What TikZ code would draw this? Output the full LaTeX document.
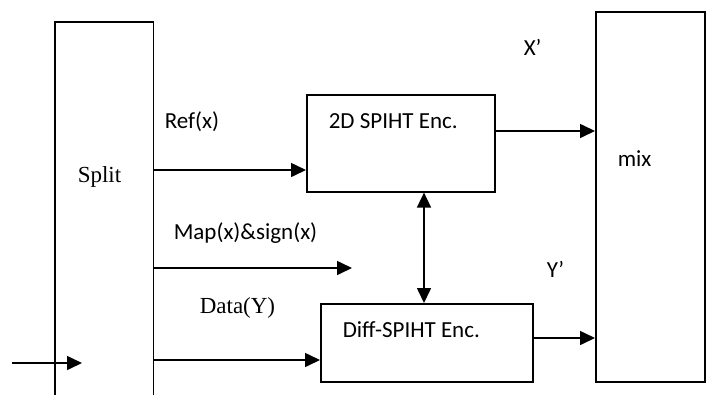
\documentclass[tikz,border=0pt]{standalone}
\usepackage{fontspec}
\setmainfont{Liberation Serif}
\newfontfamily\labelfont{Carlito}
\usetikzlibrary{arrows.meta}
\begin{document}
\begin{tikzpicture}[x=1pt,y=-1pt,
  line width=1.6pt,
  blk/.style={draw,rectangle,inner sep=0pt,anchor=north west},
  arr/.style={-{Triangle[length=15pt,width=14pt]}},
  darr/.style={{Triangle[length=15pt,width=14pt]}-{Triangle[length=15pt,width=14pt]}},
  sans/.style={font=\labelfont\fontsize{23}{27}\selectfont,inner sep=0pt,anchor=base west},
  serif/.style={font=\fontsize{23}{27}\selectfont,inner sep=0pt,anchor=base west}]
\useasboundingbox (0,0) rectangle (711,394);

% blocks
\node[inner sep=0pt,minimum width=97pt,minimum height=378pt,anchor=north west] (split) at (55,22) {};
\draw (split.south west) -- (split.north west) -- (split.north east) -- (split.south east);
\node[blk,minimum width=188pt,minimum height=97pt] (tdd) at (306,94) {};
\node[blk,minimum width=212pt,minimum height=78pt] (diff) at (320,303) {};
\node[blk,minimum width=109pt,minimum height=370pt] (mix) at (595,11) {};

% texts
\node[serif] (tsplit) at (77,182) {Split};
\node[sans] (tref) at (164,128) {Ref(x)};
\node[sans] (tmap) at (173,239) {Map(x)\&sign(x)};
\node[serif] (tdata) at (199,313) {Data(Y)};
\node[sans] (ttdd) at (328,128) {2D SPIHT Enc.};
\node[sans] (tdiff) at (342,337) {Diff-SPIHT Enc.};
\node[sans] (tmix) at (617,166) {mix};
\node[sans] (tx) at (523,55) {X’};
\node[sans] (ty) at (546,277) {Y’};

% free ends
\coordinate (inA) at (12,363);
\coordinate (inB) at (82,363);
\coordinate (mapEnd) at (352,268);

% connectors
\draw[arr] (inA) -- (inB);
\draw[arr] (split.east |- 0,170) -- (tdd.west |- 0,170);
\draw[arr] (split.east |- 0,268) -- (mapEnd);
\draw[arr] (split.east |- 0,360) -- (diff.west |- 0,360);
\draw[arr] (tdd.east |- 0,131) -- (mix.west |- 0,131);
\draw[arr] (diff.east |- 0,338) -- (mix.west |- 0,338);
\draw[darr] (tdd.south -| 424,0) -- (diff.north -| 424,0);
\end{tikzpicture}
\end{document}
